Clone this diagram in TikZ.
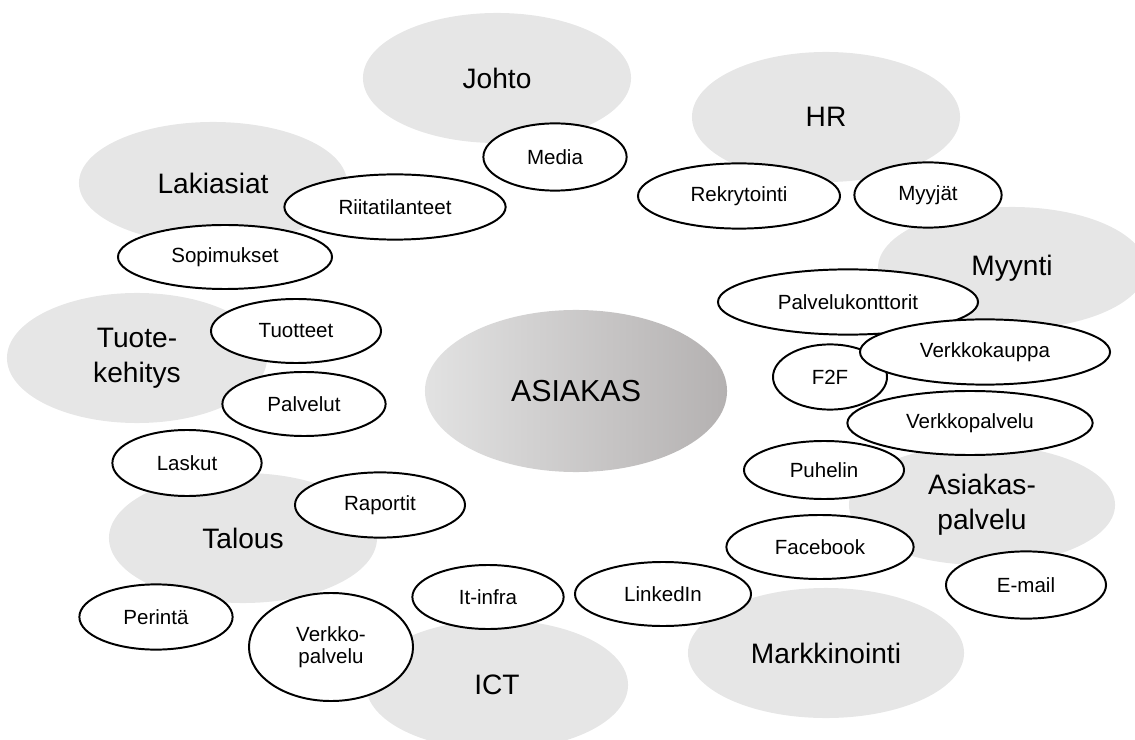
\documentclass[tikz,border=0pt]{standalone}
\usepackage{fontspec}
\setmainfont{Liberation Sans}
\usepackage{xcolor}
\usepackage{tikz}
\usetikzlibrary{shapes.geometric}

\definecolor{deptgray}{HTML}{E6E6E6}
\definecolor{coreleft}{HTML}{E2E2E2}
\definecolor{coreright}{HTML}{B4B1B1}

\begin{document}
\begin{tikzpicture}[x=0.025cm, y=-0.025cm,
	dept/.style={ellipse, fill=deptgray, inner sep=0pt, minimum width=6.7cm, minimum height=3.25cm, align=center, font=\fontsize{20}{25}\selectfont},
	topic/.style={ellipse, draw, line width=1.4pt, fill=white, inner sep=0pt, align=center, font=\fontsize{14.6}{15.5}\selectfont}]
	\useasboundingbox (0,0) rectangle (1135,740);
	% departments
	\node[dept] (johto) at (497,78) {Johto};
	\node[dept] (hr) at (826,117) {HR};
	\node[dept, minimum height=3.05cm] (laki) at (213,183) {Lakiasiat};
	\node[dept, minimum height=3.05cm] (myynti) at (1012,268) {Myynti};
	\node[dept, minimum width=6.5cm] (tuote) at (137,358) {Tuote-\\kehitys};
	\node[dept, minimum width=6.65cm, minimum height=3cm] (aspa) at (982,505) {Asiakas-\\palvelu};
	\node[dept] (talous) at (243,538) {Talous};
	\node[dept, minimum width=6.9cm] (markk) at (826,653) {Markkinointi};
	\node[dept, minimum width=6.55cm] (ict) at (497,685) {ICT};
	% customer
	\node[ellipse, inner sep=0pt, minimum width=7.55cm, minimum height=4.05cm, left color=coreleft, right color=coreright, font=\fontsize{21.6}{26}\selectfont] (asiakas) at (576,391) {ASIAKAS};
	% topics
	\node[topic, minimum width=3.58cm, minimum height=1.68cm] (media) at (555,157) {Media};
	\node[topic, minimum width=5.05cm, minimum height=1.63cm] (rekry) at (739,196) {Rekrytointi};
	\node[topic, minimum width=3.68cm, minimum height=1.63cm] (myyjat) at (928,195) {Myyjät};
	\node[topic, minimum width=5.53cm, minimum height=1.63cm] (riita) at (395,207) {Riitatilanteet};
	\node[topic, minimum width=5.35cm, minimum height=1.6cm] (sopim) at (225,257) {Sopimukset};
	\node[topic, minimum width=6.5cm, minimum height=1.63cm] (konttorit) at (848,302) {Palvelukonttorit};
	\node[topic, minimum width=4.25cm, minimum height=1.6cm] (tuotteet) at (296,331) {Tuotteet};
	\node[topic, minimum width=2.85cm, minimum height=1.63cm] (f2f) at (830,377) {F2F};
	\node[topic, minimum width=6.25cm, minimum height=1.63cm] (kauppa) at (985,352) {Verkkokauppa};
	\node[topic, minimum width=6.13cm, minimum height=1.6cm] (verkko) at (970,423) {Verkkopalvelu};
	\node[topic, minimum width=4.08cm, minimum height=1.6cm] (palvelut) at (304,404) {Palvelut};
	\node[topic, minimum width=3.73cm, minimum height=1.65cm] (laskut) at (187,463) {Laskut};
	\node[topic, minimum width=4cm, minimum height=1.45cm] (puhelin) at (824,470) {Puhelin};
	\node[topic, minimum width=4.25cm, minimum height=1.63cm] (raportit) at (380,505) {Raportit};
	\node[topic, minimum width=4.68cm, minimum height=1.6cm] (facebook) at (820,547) {Facebook};
	\node[topic, minimum width=4cm, minimum height=1.68cm] (email) at (1026,585) {E-mail};
	\node[topic, minimum width=4.4cm, minimum height=1.6cm] (linkedin) at (663,594) {LinkedIn};
	\node[topic, minimum width=3.78cm, minimum height=1.6cm] (infra) at (488,597) {It-infra};
	\node[topic, minimum width=3.83cm, minimum height=1.63cm] (perinta) at (156,617) {Perintä};
	\node[topic, minimum width=4.1cm, minimum height=2.7cm] (verkko2) at (331,647) {Verkko-\\palvelu};
\end{tikzpicture}
\end{document}
